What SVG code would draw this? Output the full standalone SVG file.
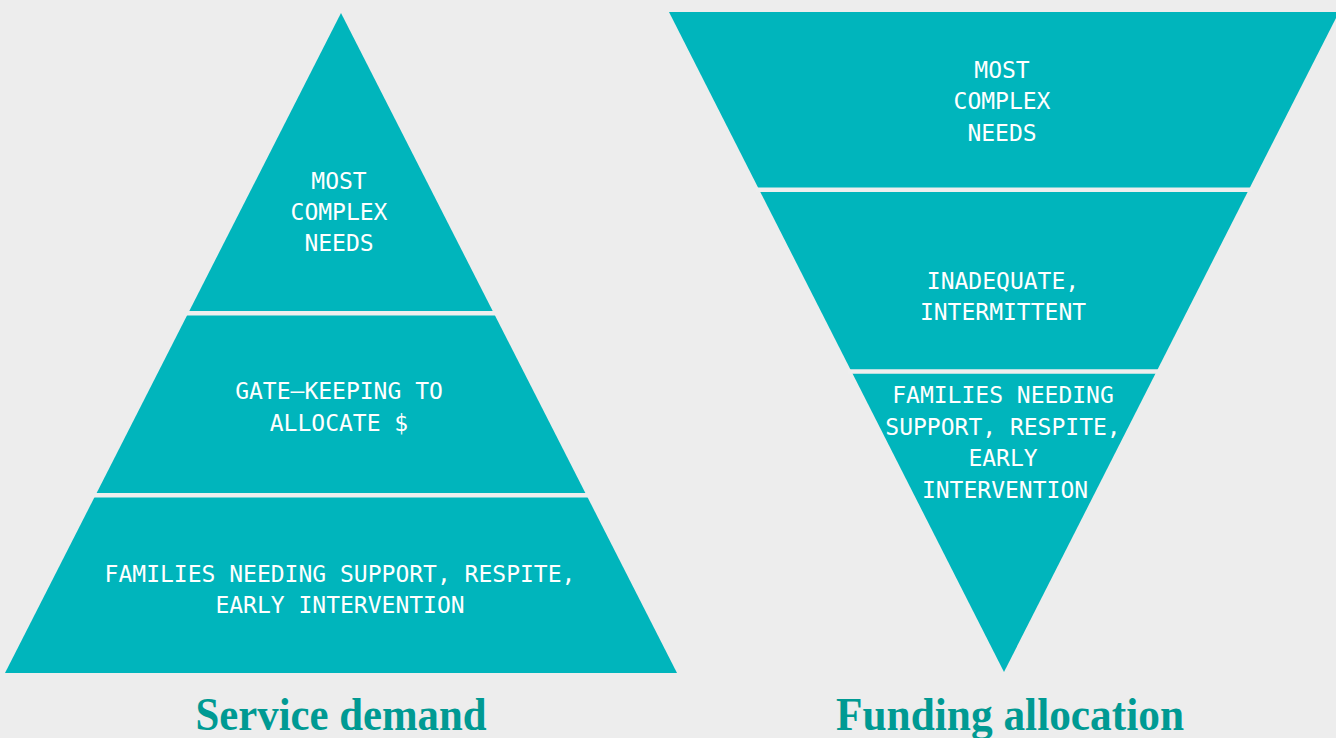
<svg xmlns="http://www.w3.org/2000/svg" width="1336" height="738" viewBox="0 0 1336 738">
<style>
.shape{fill:#00B5BC}
.gap{stroke:#EEEEEE;stroke-width:4.5;fill:none}
.lbl{font-family:"DejaVu Sans Mono","Liberation Mono",monospace;font-size:23px;fill:#FFFFFF;text-anchor:middle}
.title{font-family:"Liberation Serif","DejaVu Serif",serif;font-weight:bold;font-size:47px;fill:#009A93;text-anchor:middle}
</style>
<rect width="1336" height="738" fill="#EDEDED"/>
<g id="service-demand">
<polygon class="shape" points="341,13 677,673 5,673"/>
<line class="gap" x1="186" y1="313.3" x2="496" y2="313.3"/>
<line class="gap" x1="93" y1="495.3" x2="589" y2="495.3"/>
</g>
<g id="funding-allocation">
<polygon class="shape" points="669,12 1339,12 1004,672"/>
<line class="gap" x1="756" y1="189.8" x2="1252" y2="189.8"/>
<line class="gap" x1="848" y1="371.6" x2="1160" y2="371.6"/>
</g>
<g id="sd-top"><text class="lbl" x="339" y="189">MOST</text><text class="lbl" x="339" y="220">COMPLEX</text><text class="lbl" x="339" y="251">NEEDS</text></g>
<g id="sd-mid"><text class="lbl" x="339" y="399">GATE–KEEPING TO</text><text class="lbl" x="339" y="431">ALLOCATE $</text></g>
<g id="sd-bottom"><text class="lbl" x="340" y="582">FAMILIES NEEDING SUPPORT, RESPITE,</text><text class="lbl" x="340" y="613">EARLY INTERVENTION</text></g>
<g id="fa-top"><text class="lbl" x="1002" y="78">MOST</text><text class="lbl" x="1002" y="109">COMPLEX</text><text class="lbl" x="1002" y="141">NEEDS</text></g>
<g id="fa-mid"><text class="lbl" x="1003" y="289">INADEQUATE,</text><text class="lbl" x="1003" y="320">INTERMITTENT</text></g>
<g id="fa-bottom"><text class="lbl" x="1003" y="403">FAMILIES NEEDING</text><text class="lbl" x="1003" y="435">SUPPORT, RESPITE,</text><text class="lbl" x="1003" y="466">EARLY</text><text class="lbl" x="1005" y="498">INTERVENTION</text></g>
<g id="titles">
<text class="title" x="341" y="730" textLength="291" lengthAdjust="spacingAndGlyphs">Service demand</text>
<text class="title" x="1010" y="730" textLength="348" lengthAdjust="spacingAndGlyphs">Funding allocation</text>
</g>
<g id="connectors"></g>
</svg>
